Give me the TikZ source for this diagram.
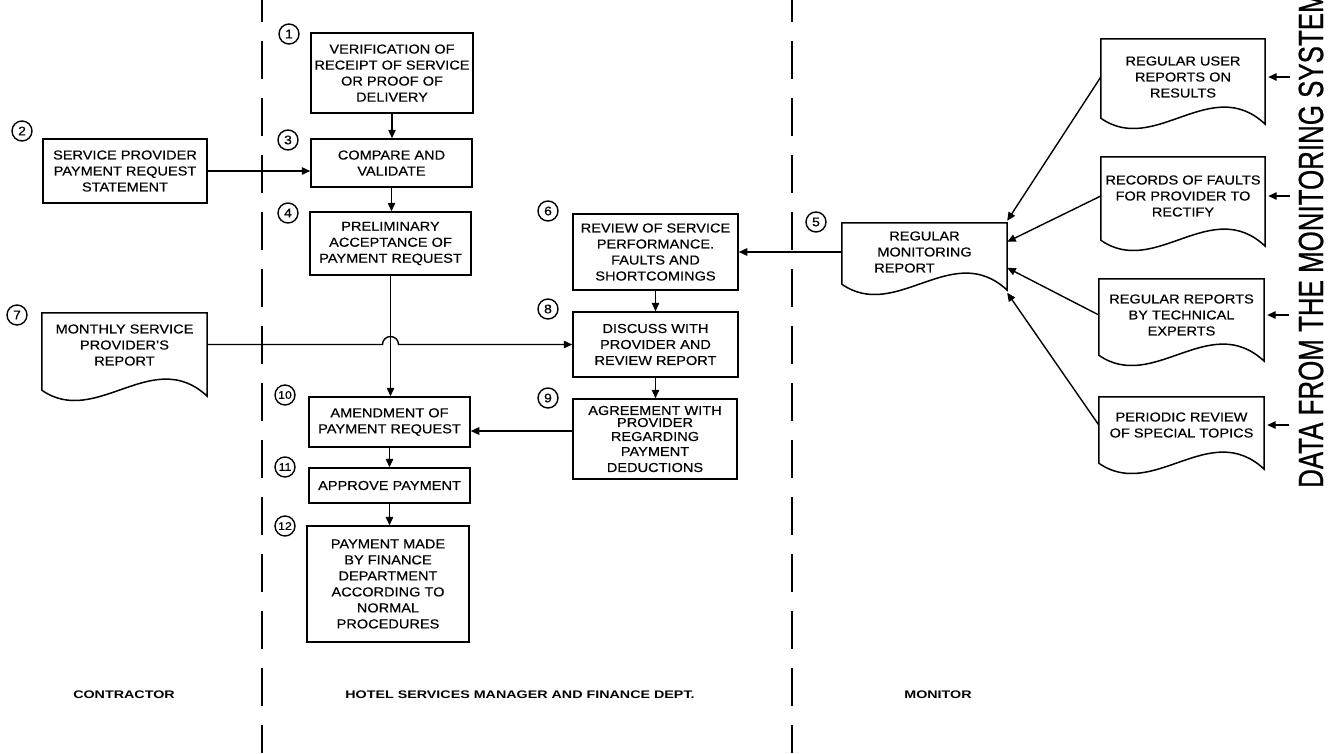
\documentclass[tikz,border=0pt]{standalone}
\usepackage{fontspec}
\setmainfont{Liberation Sans}[FakeStretch=1.12, FakeBold=0.35]
\newfontfamily\lanefont{Liberation Sans}[FakeStretch=1.3]
\newfontfamily\sidefont{Liberation Sans}[FakeStretch=0.74, FakeBold=0.6]
\usetikzlibrary{arrows.meta,calc}

\newcommand\boxtext{\fontsize{13}{16}\selectfont}
\newcommand\numtext{\fontsize{12.5}{12.5}\selectfont}
\newcommand\numsmall{\fontsize{11}{11}\selectfont}

% outline of a document symbol: flat top, straight sides, wavy bottom edge
% #1 = node name, #2 = extra depth (pt) of the left side below the node
\newcommand\docoutline[2]{%
  \draw[docline] (#1.north west) -- (#1.north east)
    -- ([yshift={-(#2+6)*1pt}]#1.south east)
    .. controls ($([yshift=-#2pt]#1.south west)!0.67!([yshift=-#2pt]#1.south east)+(0pt,45pt)$)
       and ($([yshift=-#2pt]#1.south west)!0.33!([yshift=-#2pt]#1.south east)+(0pt,-38pt)$)
    .. ([yshift=-#2pt]#1.south west) -- cycle;}

\begin{document}
\begin{tikzpicture}[x=1pt,y=1pt,
  box/.style={draw, line width=1.5pt, inner sep=0pt, align=center, font=\boxtext},
  docnode/.style={inner sep=0pt, align=center, font=\boxtext},
  docline/.style={line width=1.5pt, line join=miter},
  num/.style={circle, draw, line width=1.4pt, inner sep=0pt, minimum size=20pt, font=\numtext},
  flow/.style={line width=1.4pt, -{Triangle[length=8.5pt,width=7.5pt]}},
  lane/.style={line width=1.6pt, dash pattern=on 38pt off 19pt, dash phase=16pt},
  lanelabel/.style={inner sep=0pt, font=\lanefont\bfseries\fontsize{11}{13}\selectfont},
]
\useasboundingbox (0,0) rectangle (1334,-753);
\clip (0,0) rectangle (1334,-753);

% swim-lane dividers
\draw[lane] (262,0) -- (262,-753);
\draw[lane] (792,0) -- (792,-753);

% --- contractor lane ---
\node[box, minimum width=164pt, minimum height=64pt] (B2) at (125,-171)
  {SERVICE PROVIDER\\PAYMENT REQUEST\\STATEMENT};
\node[docnode, minimum width=165pt, minimum height=64pt] (B7) at (124.5,-345)
  {MONTHLY SERVICE\\PROVIDER'S\\REPORT};
\docoutline{B7}{13}

% --- hotel services manager and finance lane ---
\node[box, minimum width=162pt, minimum height=80pt] (B1) at (392,-73)
  {VERIFICATION OF\\RECEIPT OF SERVICE\\OR PROOF OF\\DELIVERY};
\node[box, minimum width=161pt, minimum height=48pt] (B3) at (391.5,-163)
  {COMPARE AND\\VALIDATE};
\node[box, minimum width=161pt, minimum height=63pt] (B4) at (390.5,-243.5)
  {PRELIMINARY\\ACCEPTANCE OF\\PAYMENT REQUEST};
\node[box, minimum width=161pt, minimum height=50pt] (B10) at (389.5,-422)
  {AMENDMENT OF\\PAYMENT REQUEST};
\node[box, minimum width=161pt, minimum height=35pt] (B11) at (389.5,-485.5)
  {APPROVE PAYMENT};
\node[box, minimum width=162pt, minimum height=116pt] (B12) at (388,-584)
  {PAYMENT MADE\\BY FINANCE\\DEPARTMENT\\ACCORDING TO\\NORMAL\\PROCEDURES};
\node[box, minimum width=165pt, minimum height=76pt] (B6) at (655.5,-252)
  {REVIEW OF SERVICE\\PERFORMANCE.\\FAULTS AND\\SHORTCOMINGS};
\node[box, minimum width=165pt, minimum height=65pt] (B8) at (655.5,-344.5)
  {DISCUSS WITH\\PROVIDER AND\\REVIEW REPORT};
\node[box, minimum width=164pt, minimum height=80pt] (B9) at (655,-439)
  {AGREEMENT WITH\\[-4pt]PROVIDER\\[-2pt]REGARDING\\[-1pt]PAYMENT\\DEDUCTIONS};

% --- monitor lane ---
\node[docnode, minimum width=165pt, minimum height=58pt] (B5) at (924.5,-252)
  {REGULAR\\MONITORING\\REPORT\hspace*{40pt}};
\docoutline{B5}{3}
\node[docnode, minimum width=164pt, minimum height=76pt] (DA) at (1183,-77)
  {REGULAR USER\\REPORTS ON\\RESULTS};
\docoutline{DA}{3}
\node[docnode, minimum width=164pt, minimum height=78pt] (DB) at (1183,-196)
  {RECORDS OF FAULTS\\FOR PROVIDER TO\\RECTIFY};
\docoutline{DB}{5}
\node[docnode, minimum width=165pt, minimum height=72pt] (DC) at (1181.5,-315)
  {REGULAR REPORTS\\BY TECHNICAL\\EXPERTS};
\docoutline{DC}{4}
\node[docnode, minimum width=165pt, minimum height=56pt] (DD) at (1181.5,-425)
  {PERIODIC REVIEW\\OF SPECIAL TOPICS};
\docoutline{DD}{10}

% step numbers
\node[num] (n1) at (289,-34) {1};
\node[num] (n2) at (22,-131) {2};
\node[num] (n3) at (288,-140) {3};
\node[num] (n4) at (288,-213) {4};
\node[num] (n5) at (816,-222) {5};
\node[num] (n6) at (548,-211) {6};
\node[num] (n7) at (17,-315) {7};
\node[num] (n8) at (548,-309) {8};
\node[num] (n9) at (548,-398) {9};
\node[num, font=\numsmall] (n10) at (285,-395) {10};
\node[num, font=\numsmall] (n11) at (285,-467) {11};
\node[num, font=\numsmall] (n12) at (285,-526) {12};

% flow between steps
\draw[flow] (B1.south) -- (B1.south |- B3.north);
\draw[flow] (B3.south) -- (B3.south |- B4.north);
\draw[flow] (B2.east) -- (B2.east -| B3.west);
\draw[flow] (B4.south) -- (B4.south |- B10.north);
\draw[flow] (B7.east |- B8.west)
  -- ($(B4.south |- B8.west)+(-8pt,0pt)$)
  arc[start angle=180, end angle=0, radius=8pt]
  -- (B8.west);
\draw[flow] (B5.west) -- (B5.west -| B6.east);
\draw[flow] (B6.south) -- (B6.south |- B8.north);
\draw[flow] (B8.south) -- (B8.south |- B9.north);
\draw[flow] ([yshift=8pt]B9.west) -- ([yshift=8pt]B9.west -| B10.east);
\draw[flow] (B10.south) -- (B10.south |- B11.north);
\draw[flow] (B11.south) -- (B11.south |- B12.north);

% inputs to the monitoring report
\draw[flow] (DA.west) -- ([yshift=2pt]B5.north east);
\draw[flow] (DB.west) -- ([yshift=-19pt]B5.north east);
\draw[flow] (DC.west) -- ([yshift=-45pt]B5.north east);
\draw[flow] (DD.west) -- ([yshift=-70pt]B5.north east);

% data arriving from the monitoring system
\draw[flow] ([xshift=25pt]DA.east) -- ([xshift=3pt]DA.east);
\draw[flow] ([xshift=25pt]DB.east) -- ([xshift=3pt]DB.east);
\draw[flow] ([xshift=25pt]DC.east) -- ([xshift=3pt]DC.east);
\draw[flow] ([xshift=25pt]DD.east) -- ([xshift=3pt]DD.east);
\node[rotate=90, anchor=west, inner sep=0pt, font=\sidefont\fontsize{35}{35}\selectfont]
  (side) at (1311,-488) {DATA FROM THE MONITORING SYSTEM};

% lane titles
\node[lanelabel] (L1) at (124,-695) {CONTRACTOR};
\node[lanelabel] (L2) at (520,-695) {HOTEL SERVICES MANAGER AND FINANCE DEPT.};
\node[lanelabel] (L3) at (938,-695) {MONITOR};
\end{tikzpicture}
\end{document}
